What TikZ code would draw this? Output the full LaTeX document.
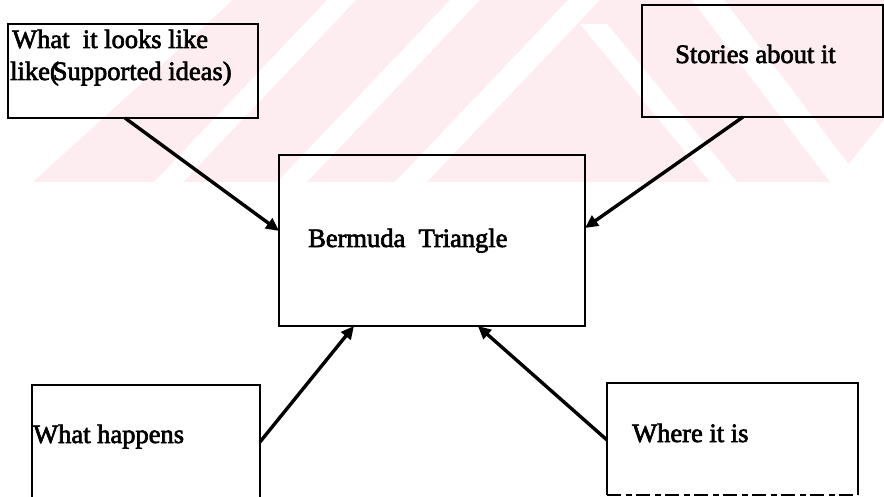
\documentclass[tikz,border=0pt]{standalone}
\usepackage{fontspec}
% Times-width serif, emboldened to give the heavy printed look
\setmainfont{Liberation Serif}[BoldFont={Liberation Serif}, BoldFeatures={FakeBold=2.5}]
\usetikzlibrary{arrows.meta,calc}
\definecolor{markpink}{RGB}{253,236,240}

\begin{document}
\begin{tikzpicture}[x=1pt,y=-1pt,
  frame/.style={line width=2.4pt, line join=miter},
  box/.style={draw, frame, inner sep=0pt, outer sep=0pt, anchor=north west},
  shell/.style={inner sep=0pt, outer sep=0pt, anchor=north west},
  boxtext/.style={inner sep=0pt, anchor=base west,
    font=\fontsize{26.5}{30}\selectfont\bfseries},
  link/.style={line width=3.4pt, -{Triangle[length=13pt,width=12pt]}},
]
\useasboundingbox (0,0) rectangle (884,497);
\clip (0,0) rectangle (884,497);

% faint striped emblem in the upper band
\fill[markpink] (233,0) -- (884,0) -- (884,120) -- (834,182) -- (33,182) -- cycle;
\fill[white] (327,0) -- (356,0) -- (183,182) -- (154,182) -- cycle;
\fill[white] (450,0) -- (480,0) -- (307,182) -- (277,182) -- cycle;
\fill[white] (568,0) -- (600,0) -- (427,182) -- (395,182) -- cycle;
\fill[white] (692,0) -- (724,0) -- (862,182) -- (830,182) -- cycle;
\fill[white] (580,24) -- (607,24) -- (737,182) -- (710,182) -- cycle;

% boxes
\node[box, minimum width=250pt, minimum height=94pt]  (A) at (8,24) {};
\node[box, minimum width=241pt, minimum height=112pt] (B) at (642,5) {};
\node[box, minimum width=306pt, minimum height=171pt] (C) at (279,155) {};
\node[shell, minimum width=228pt, minimum height=130pt] (D) at (32,385) {};
\node[shell, minimum width=251pt, minimum height=112pt] (E) at (607,383) {};

% the two lower boxes run off the page: open bottom on the left, broken bottom on the right
\draw[frame] (D.south west) -- (D.north west) -- (D.north east) -- (D.south east);
\draw[frame] (E.south west) -- (E.north west) -- (E.north east) -- (E.south east);
\draw[line width=1.6pt, dash pattern=on 14pt off 5pt on 6pt off 4pt] (E.south west) -- (E.south east);

% texts
\node[boxtext] (ta1) at (12,48) {What\ \ it looks like};
\node[boxtext] (ta2) at (10,80) {like(\kern-6pt Supported ideas)};
\node[boxtext] (tb)  at (675,63) {Stories about it};
\node[boxtext] (tc)  at (308,247) {Bermuda\ \ Triangle};
\node[boxtext] (td)  at (33,443) {What happens};
\node[boxtext] (te)  at (632,442) {Where it is};

% arrows into the central box
\draw[link] ($(A.south west)!0.468!(A.south east)$) -- ($(C.north west)!0.444!(C.south west)$);
\draw[link] ($(B.south west)!0.419!(B.south east)$) -- ($(C.north east)!0.427!(C.south east)$);
\draw[link] ($(D.north east)!0.438!(D.south east)$) -- ($(C.south west)!0.245!(C.south east)$);
\draw[link] ($(E.north west)!0.509!(E.south west)$) -- ($(C.south west)!0.65!(C.south east)$);
\end{tikzpicture}
\end{document}
